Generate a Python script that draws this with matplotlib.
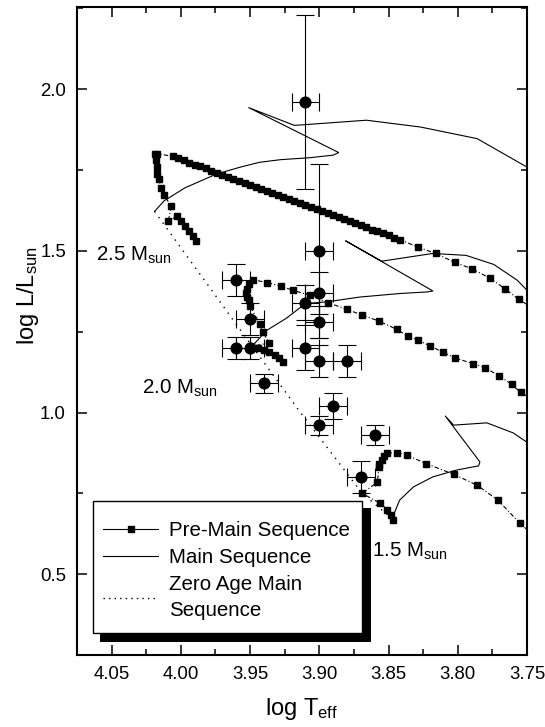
import matplotlib
matplotlib.use("Agg")
import matplotlib.pyplot as plt
from matplotlib.lines import Line2D
from matplotlib.patches import Rectangle
from matplotlib.ticker import MultipleLocator, FormatStrFormatter

plt.rcParams["font.family"] = ["Liberation Sans", "DejaVu Sans"]
plt.rcParams["mathtext.fontset"] = "custom"
plt.rcParams["mathtext.rm"] = "Liberation Sans"
plt.rcParams["mathtext.it"] = "Liberation Sans:italic"

# observed stars: log Teff, log L/Lsun and errors
star_logt = [3.91, 3.90, 3.96, 3.95, 3.96, 3.95, 3.94, 3.91, 3.90, 3.90, 3.91, 3.90, 3.88, 3.89, 3.90, 3.86, 3.87]
star_logl = [1.96, 1.50, 1.41, 1.29, 1.20, 1.20, 1.09, 1.34, 1.37, 1.28, 1.20, 1.16, 1.16, 1.02, 0.96, 0.93, 0.80]
star_lerr = [0.27, 0.27, 0.05, 0.05, 0.035, 0.035, 0.03, 0.055, 0.065, 0.05, 0.07, 0.05, 0.05, 0.04, 0.03, 0.03, 0.05]
star_terr = [0.01] * 17

# pre-main sequence tracks (squares)
pms25_t = [3.744, 3.756, 3.766, 3.777, 3.790, 3.802, 3.816, 3.829,
           3.842, 3.846, 3.850, 3.854, 3.858, 3.862, 3.866, 3.870, 3.874, 3.878,
           3.882, 3.886, 3.890, 3.894, 3.898, 3.902, 3.906, 3.910, 3.914, 3.918,
           3.922, 3.926, 3.930, 3.934, 3.938, 3.942, 3.946, 3.950, 3.954, 3.958,
           3.962, 3.966, 3.970, 3.974, 3.978, 3.982, 3.986, 3.990, 3.994, 3.998,
           4.002, 4.006,
           4.017, 4.019, 4.018, 4.017, 4.017, 4.016, 4.014, 4.012, 4.007, 4.009,
           4.003, 4.000, 3.997, 3.994, 3.991, 3.989]
pms25_l = [1.318, 1.350, 1.383, 1.416, 1.445, 1.464, 1.492, 1.512,
           1.535, 1.541, 1.548, 1.554, 1.560, 1.566, 1.573, 1.579, 1.585, 1.591,
           1.598, 1.604, 1.610, 1.617, 1.623, 1.629, 1.635, 1.642, 1.648, 1.654,
           1.660, 1.667, 1.673, 1.679, 1.686, 1.692, 1.698, 1.704, 1.711, 1.717,
           1.723, 1.729, 1.736, 1.742, 1.748, 1.755, 1.761, 1.767, 1.773, 1.780,
           1.786, 1.792,
           1.801, 1.801, 1.780, 1.759, 1.739, 1.721, 1.693, 1.672, 1.638, 1.592,
           1.607, 1.592, 1.577, 1.561, 1.546, 1.531]

pms20_t = [3.744, 3.7546, 3.761, 3.770, 3.780, 3.789, 3.802, 3.811, 3.820, 3.829,
           3.836, 3.844, 3.857, 3.869, 3.880, 3.894, 3.907, 3.919, 3.928, 3.938,
           3.948, 3.951, 3.952, 3.953, 3.952, 3.951, 3.950, 3.943, 3.941, 3.936,
           3.949, 3.944, 3.940, 3.936, 3.932, 3.929, 3.926]
pms20_l = [1.035, 1.062, 1.087, 1.113, 1.138, 1.151, 1.169, 1.187, 1.206, 1.224,
           1.236, 1.257, 1.283, 1.301, 1.319, 1.340, 1.363, 1.378, 1.391, 1.402,
           1.411, 1.397, 1.381, 1.369, 1.356, 1.347, 1.328, 1.275, 1.249, 1.215,
           1.205, 1.199, 1.193, 1.186, 1.177, 1.168, 1.156]

pms15_t = [3.744, 3.755, 3.771, 3.786, 3.803, 3.823, 3.837, 3.844, 3.851,
           3.853, 3.855, 3.857, 3.857, 3.858, 3.869, 3.856, 3.851, 3.848, 3.847]
pms15_l = [0.615, 0.657, 0.729, 0.775, 0.809, 0.842, 0.869, 0.876, 0.875,
           0.865, 0.852, 0.840, 0.831, 0.785, 0.750, 0.719, 0.700, 0.682, 0.669]

# main sequence tracks (thin lines)
ms25_t = [4.019, 4.012, 3.997, 3.974, 3.957, 3.943, 3.928, 3.907, 3.890, 3.886,
          3.951, 3.918, 3.866, 3.827, 3.786, 3.750, 3.745]
ms25_l = [1.622, 1.655, 1.695, 1.738, 1.759, 1.774, 1.782, 1.788, 1.796, 1.804,
          1.943, 1.888, 1.904, 1.883, 1.847, 1.759, 1.748]

ms20_t = [3.948, 3.938, 3.924, 3.910, 3.895, 3.871, 3.842, 3.822, 3.818,
          3.881, 3.855, 3.818, 3.794, 3.774, 3.757, 3.750, 3.745]
ms20_l = [1.208, 1.254, 1.291, 1.337, 1.342, 1.357, 1.368, 1.373, 1.376,
          1.531, 1.468, 1.492, 1.486, 1.458, 1.409, 1.378, 1.357]

ms15_t = [3.847, 3.842, 3.832, 3.818, 3.801, 3.785, 3.784,
          3.809, 3.803, 3.779, 3.760, 3.750, 3.745]
ms15_l = [0.677, 0.729, 0.770, 0.801, 0.822, 0.835, 0.847,
          0.989, 0.961, 0.968, 0.937, 0.908, 0.893]

# zero age main sequence
zams_t = [4.019, 3.948, 3.914, 3.869, 3.847]
zams_l = [1.622, 1.202, 1.002, 0.750, 0.670]

mass_labels = ["2.5", "2.0", "1.5"]
mass_t = [4.061, 4.028, 3.862]
mass_l = [1.471, 1.059, 0.554]

fig = plt.figure(figsize=(5.45, 7.27), dpi=100)
ax = fig.add_axes([0.1413, 0.099, 0.8257, 0.8913])

for t, l in [(pms25_t, pms25_l), (pms20_t, pms20_l), (pms15_t, pms15_l)]:
    ax.plot(t, l, color="black", lw=0.8, ls=(0, (4, 2, 1, 2)),
            marker="s", ms=4.6, mec="black", mfc="black", zorder=3)
for t, l in [(ms25_t, ms25_l), (ms20_t, ms20_l), (ms15_t, ms15_l)]:
    ax.plot(t, l, color="black", lw=0.8, zorder=2)
ax.plot(zams_t, zams_l, color="black", lw=1.0, ls=(0, (1, 4)), zorder=2)

ax.errorbar(star_logt, star_logl, xerr=star_terr, yerr=star_lerr, fmt="o",
            color="black", ms=7.7, elinewidth=0.8, capsize=6.5, capthick=0.8, zorder=4)

for name, t, l in zip(mass_labels, mass_t, mass_l):
    ax.text(t, l, name + r" M$_{\rm sun}$", fontsize=14.8, ha="left", va="baseline")

ax.set_xlim(4.075, 3.75)
ax.set_ylim(0.25, 2.254)
ax.xaxis.set_major_locator(MultipleLocator(0.05))
ax.xaxis.set_minor_locator(MultipleLocator(0.025))
ax.yaxis.set_major_locator(MultipleLocator(0.5))
ax.yaxis.set_minor_locator(MultipleLocator(0.25))
ax.xaxis.set_major_formatter(FormatStrFormatter("%.2f"))
ax.yaxis.set_major_formatter(FormatStrFormatter("%.1f"))
ax.tick_params(which="both", direction="in", top=True, right=True, labelsize=13.4, width=1.1)
ax.tick_params(which="major", length=7, pad=8)
ax.tick_params(which="minor", length=4)
for sp in ax.spines.values():
    sp.set_linewidth(1.5)

ax.set_xlabel(r"log T$_{\rm eff}$", fontsize=17, labelpad=9)
ax.set_ylabel(r"log L/L$_{\rm sun}$", fontsize=17)
ax.yaxis.set_label_coords(-0.08, 0.554)

# legend with a hard black drop shadow
ax.add_patch(Rectangle((0.051, 0.0201), 0.602, 0.207, transform=ax.transAxes,
                       facecolor="black", edgecolor="none", zorder=8))
ax.add_patch(Rectangle((0.036, 0.0335), 0.597, 0.204, transform=ax.transAxes,
                       facecolor="white", edgecolor="black", lw=1.0, zorder=9))
handles = [
    Line2D([], [], color="black", lw=0.8, marker="s", ms=4.6),
    Line2D([], [], color="black", lw=0.8),
    Line2D([], [], color="black", lw=1.0, ls=(0, (1, 3))),
]
labels = ["Pre-Main Sequence", "Main Sequence", "Zero Age Main\nSequence"]
leg = ax.legend(handles, labels, loc="upper left", bbox_to_anchor=(0.058, 0.207),
                frameon=False, fontsize=14.8, numpoints=1, handlelength=2.67,
                handletextpad=0.53, borderpad=0, borderaxespad=0, labelspacing=0.4)
leg.get_texts()[2].set_linespacing(1.45)
leg.set_zorder(10)

fig.savefig("out.png", dpi=100)
